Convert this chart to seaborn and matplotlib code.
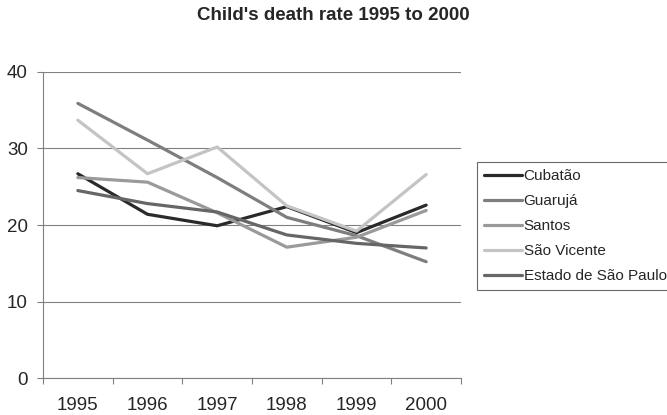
import matplotlib
matplotlib.use("Agg")
import matplotlib.pyplot as plt
import pandas as pd
import seaborn as sns

# data
years = ["1995", "1996", "1997", "1998", "1999", "2000"]
cubatao = [26.7, 21.4, 19.9, 22.4, 19.0, 22.6]
guaruja = [35.9, 31.1, 26.2, 21.0, 18.6, 15.2]
santos = [26.2, 25.6, 21.6, 17.1, 18.4, 21.9]
sao_vicente = [33.7, 26.7, 30.2, 22.5, 19.2, 26.6]
estado_sp = [24.5, 22.8, 21.7, 18.7, 17.6, 17.0]

series = {
    "Cubatão": cubatao,
    "Guarujá": guaruja,
    "Santos": santos,
    "São Vicente": sao_vicente,
    "Estado de São Paulo": estado_sp,
}
colors = ["#2a2a2a", "#7e7e7e", "#9a9a9a", "#c4c4c4", "#666666"]

rows = []
for name, vals in series.items():
    for i, v in enumerate(vals):
        rows.append({"City": name, "idx": i, "Rate": v})
df = pd.DataFrame(rows)

sns.set_style("white")
plt.rcParams["font.family"] = ["Liberation Sans", "DejaVu Sans"]

fig = plt.figure(figsize=(6.67, 4.15), dpi=100)
ax = fig.add_axes([43 / 667, 1 - 378 / 415, (461 - 43) / 667, (378 - 72) / 415])

sns.lineplot(data=df, x="idx", y="Rate", hue="City", palette=colors,
             linewidth=2.3, ax=ax, legend=True)

ax.set_xlim(-0.5, 5.5)
ax.set_ylim(0, 40)
ax.set_yticks([0, 10, 20, 30, 40])
ax.set_xticks([i - 0.5 for i in range(7)])
ax.set_xticklabels([])
ax.set_xticks(range(6), minor=True)
ax.set_xticklabels(years, minor=True, fontsize=13.5)
ax.tick_params(axis="x", which="major", length=4, color="#808080", direction="out", bottom=True)
ax.tick_params(axis="x", which="minor", length=0, pad=14)
ax.tick_params(axis="y", length=4, color="#808080", direction="out", left=True, labelsize=13.5, pad=7)
ax.yaxis.grid(True, color="#808080", linewidth=0.8)
ax.set_axisbelow(True)
ax.set_xlabel("")
ax.set_ylabel("")
for s in ["top", "right"]:
    ax.spines[s].set_visible(False)
for s in ["left", "bottom"]:
    ax.spines[s].set_color("#808080")
    ax.spines[s].set_linewidth(0.8)

leg = ax.legend(loc="upper left", bbox_to_anchor=(477 / 667, 1 - 162 / 415),
                bbox_transform=fig.transFigure, frameon=True, fancybox=False,
                fontsize=11, handlelength=2.5, handletextpad=0.1,
                borderpad=0.45, labelspacing=0.72, borderaxespad=0)
leg.get_frame().set_edgecolor("#444444")
leg.get_frame().set_linewidth(0.8)

fig.text(0.5, 1 - 16 / 415, "Child's death rate 1995 to 2000", ha="center", va="center",
         fontsize=13.5, fontweight="bold")

fig.savefig("out.png", dpi=100)
